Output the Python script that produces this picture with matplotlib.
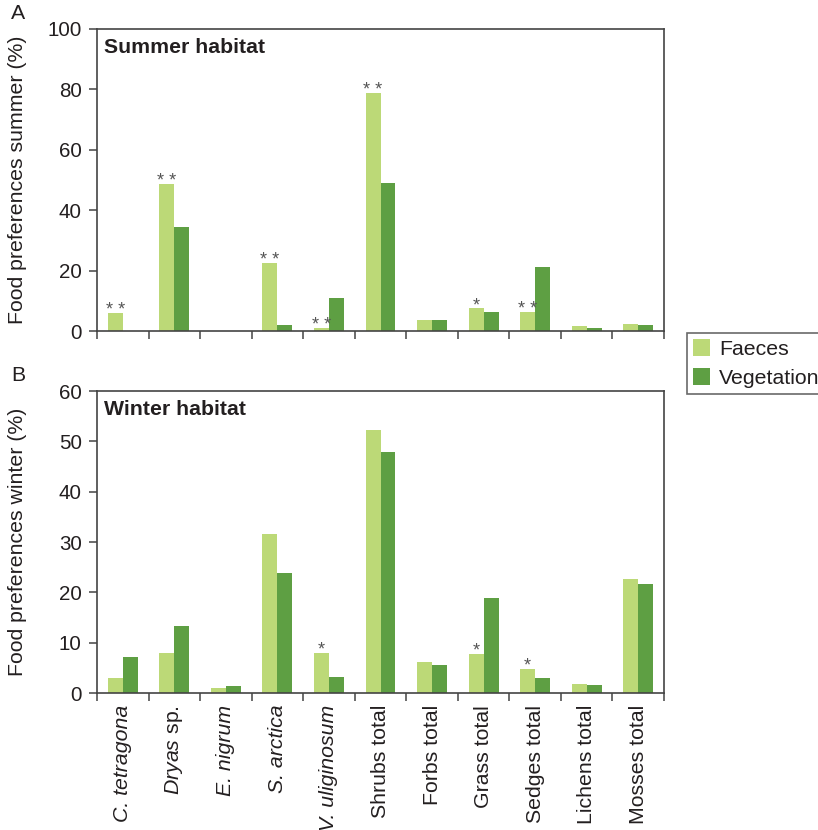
import numpy as np
import matplotlib
matplotlib.use("Agg")
import matplotlib.pyplot as plt
from matplotlib.patches import Patch

plt.rcParams["font.family"] = ["Liberation Sans", "DejaVu Sans"]
plt.rcParams["mathtext.fontset"] = "custom"
plt.rcParams["mathtext.rm"] = "Liberation Sans"
plt.rcParams["mathtext.it"] = "Liberation Sans:italic"

categories = ["C. tetragona", r"$\it{Dryas}$ sp.", "E. nigrum", "S. arctica",
              "V. uliginosum", "Shrubs total", "Forbs total", "Grass total",
              "Sedges total", "Lichens total", "Mosses total"]
italic_labels = ["C. tetragona", "E. nigrum", "S. arctica", "V. uliginosum"]

summer_faeces = [6.0, 48.8, 0.0, 22.5, 1.0, 78.8, 3.6, 7.6, 6.3, 1.7, 2.3]
summer_vegetation = [0.0, 34.4, 0.0, 2.0, 10.9, 49.0, 3.6, 6.3, 21.2, 1.0, 2.0]
summer_signif = ["**", "**", "", "**", "**", "**", "", "*", "**", "", ""]

winter_faeces = [3.0, 8.0, 0.9, 31.5, 8.0, 52.3, 6.2, 7.8, 4.8, 1.7, 22.7]
winter_vegetation = [7.2, 13.4, 1.3, 23.9, 3.2, 47.9, 5.6, 18.9, 2.9, 1.5, 21.7]
winter_signif = ["", "", "", "", "*", "", "", "*", "*", "", ""]

light = "#bcd977"
dark = "#5e9f43"
text_col = "#231f20"
spine_col = "#444444"
star_col = "#555555"

W, H = 818, 830
fig = plt.figure(figsize=(W / 100, H / 100), dpi=100)

def px_axes(left, top, right, bottom):
    return fig.add_axes([left / W, 1 - bottom / H, (right - left) / W, (bottom - top) / H])

ax1 = px_axes(97, 29, 664, 331)
ax2 = px_axes(97, 391, 664, 693)

x = np.arange(len(categories))
bw = 0.29
fs = 15.3
tick_fs = 14.8

def draw(ax, faeces, veg, signif, ymax, ystep, ylabel, title, show_labels):
    ax.bar(x - bw / 2, faeces, bw, color=light, linewidth=0, zorder=2)
    ax.bar(x + bw / 2, veg, bw, color=dark, linewidth=0, zorder=2)
    for xi, v, s in zip(x, faeces, signif):
        if s:
            ax.annotate(" ".join(s), (xi - bw / 2, v), xytext=(0, -1.5),
                        textcoords="offset points", ha="center", va="baseline",
                        fontsize=13, color=star_col)
    ax.set_xlim(-0.5, len(categories) - 0.5)
    ax.set_ylim(0, ymax)
    ax.set_yticks(np.arange(0, ymax + 0.1, ystep))
    ax.set_xticks(np.arange(-0.5, len(categories)))
    ax.set_xticklabels([])
    ax.tick_params(axis="both", direction="out", length=6, width=1.1,
                   color=spine_col, labelsize=tick_fs, labelcolor=text_col, pad=5)
    if show_labels:
        ax.set_xticks(x, minor=True)
        labels = ax.set_xticklabels(categories, minor=True, rotation=90, fontsize=fs,
                                    color=text_col, va="top", ha="center")
        for lab in labels:
            if lab.get_text() in italic_labels:
                lab.set_fontstyle("italic")
        ax.tick_params(axis="x", which="minor", length=0, pad=8.5)
    for sp in ax.spines.values():
        sp.set_color(spine_col)
        sp.set_linewidth(1.2)
    ax.set_ylabel(ylabel, fontsize=fs, color=text_col)
    ax.yaxis.set_label_coords(-0.123, 0.5)
    ax.text(0.013, 0.97, title, transform=ax.transAxes, ha="left", va="top",
            fontsize=fs, fontweight="bold", color=text_col)

draw(ax1, summer_faeces, summer_vegetation, summer_signif, 100, 20,
     "Food preferences summer (%)", "Summer habitat", False)
draw(ax2, winter_faeces, winter_vegetation, winter_signif, 60, 10,
     "Food preferences winter (%)", "Winter habitat", True)

fig.text(18 / W, 1 - 13.5 / H, "A", fontsize=fs, color=text_col, ha="center", va="center")
fig.text(18 / W, 1 - 375 / H, "B", fontsize=fs, color=text_col, ha="center", va="center")

handles = [Patch(facecolor=light, edgecolor="none", label="Faeces"),
           Patch(facecolor=dark, edgecolor="none", label="Vegetation")]
leg = fig.legend(handles=handles, loc="upper left",
                 bbox_to_anchor=(687 / W, 1 - 333 / H), fontsize=fs,
                 frameon=True, fancybox=False, borderaxespad=0, borderpad=0.3,
                 handlelength=0.8, handleheight=0.8, handletextpad=0.4,
                 labelspacing=0.45, labelcolor=text_col)
leg.get_frame().set_edgecolor(spine_col)
leg.get_frame().set_linewidth(1.2)

fig.savefig("out.png", dpi=100)
